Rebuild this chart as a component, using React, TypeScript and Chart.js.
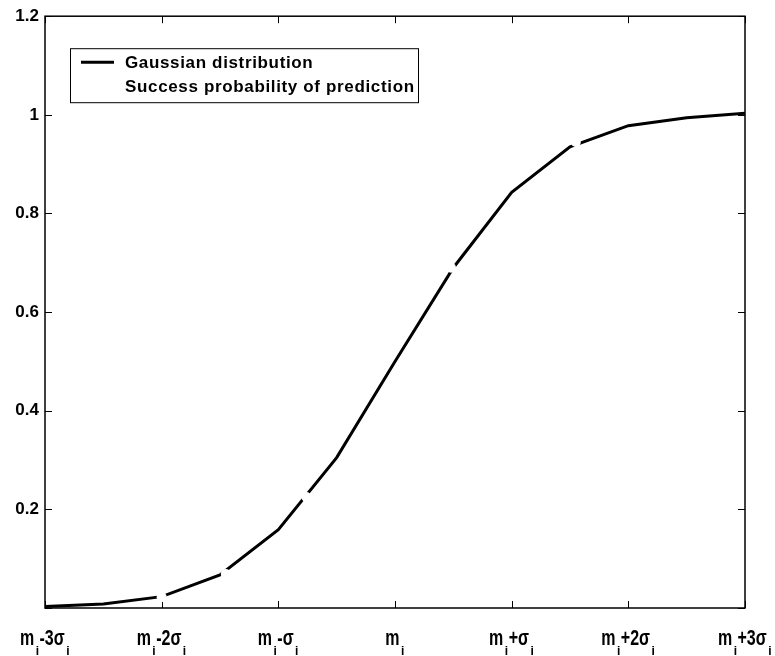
import React, { useEffect, useRef } from 'react';
import { Chart, registerables } from 'chart.js';

Chart.register(...registerables);

// ---- data ----
const sigmaPositions = [-3, -2.5, -2, -1.5, -1, -0.5, 0, 0.5, 1, 1.5, 2, 2.5, 3];
const gaussianValues = [0.003, 0.008, 0.023, 0.067, 0.159, 0.305, 0.5, 0.69, 0.843, 0.935, 0.978, 0.994, 1.003];
const successX = [-2, -1.45, -0.76, 0.48, 1.55];
const successY = [0.022, 0.069, 0.225, 0.69, 0.945];
const seriesNames = ['Gaussian distribution', 'Success probability of prediction'];
const xTickValues = [-3, -2, -1, 0, 1, 2, 3];
const xTickLabels = ['m_i-3σ_i', 'm_i-2σ_i', 'm_i-σ_i', 'm_i', 'm_i+σ_i', 'm_i+2σ_i', 'm_i+3σ_i'];
const yTickValues = [0, 0.2, 0.4, 0.6, 0.8, 1, 1.2];

const FONT = '"Liberation Sans", Arial, sans-serif';

const framePlugin = {
  id: 'matlabFrame',
  beforeDatasetsDraw(chart: any) {
    const { ctx, chartArea } = chart;
    const { left, top, right, bottom } = chartArea;
    const xs = chart.scales.x;
    const ys = chart.scales.y;
    ctx.save();
    ctx.strokeStyle = '#000';
    ctx.lineWidth = 1.5;
    ctx.strokeRect(left, top, right - left, bottom - top);
    ctx.lineWidth = 1;
    ctx.beginPath();
    const tl = 7;
    xTickValues.forEach((v) => {
      const px = Math.round(xs.getPixelForValue(v)) + 0.5;
      ctx.moveTo(px, bottom);
      ctx.lineTo(px, bottom - tl);
      ctx.moveTo(px, top);
      ctx.lineTo(px, top + tl);
    });
    yTickValues.forEach((v) => {
      const py = Math.round(ys.getPixelForValue(v)) + 0.5;
      ctx.moveTo(left, py);
      ctx.lineTo(left + tl, py);
      ctx.moveTo(right, py);
      ctx.lineTo(right - tl, py);
    });
    ctx.stroke();
    ctx.restore();
  },
  afterDatasetsDraw(chart: any) {
    const { ctx, chartArea } = chart;
    const { left, top, bottom } = chartArea;
    const xs = chart.scales.x;
    ctx.save();
    // x tick labels with subscripts (slightly stretched vertically like the scan)
    const mainFont = `bold 16px ${FONT}`;
    const subFont = `bold 12px ${FONT}`;
    const base = bottom + 37;
    xTickValues.forEach((v, i) => {
      const parts = xTickLabels[i].split('_');
      const segs: { t: string; sub: boolean }[] = [];
      parts.forEach((p, k) => {
        if (k === 0) {
          segs.push({ t: p, sub: false });
        } else {
          segs.push({ t: p.charAt(0), sub: true });
          if (p.length > 1) segs.push({ t: p.slice(1), sub: false });
        }
      });
      let total = 0;
      const widths = segs.map((s) => {
        ctx.font = s.sub ? subFont : mainFont;
        const w = ctx.measureText(s.t).width + 1;
        total += w;
        return w;
      });
      let x = xs.getPixelForValue(v) - total / 2;
      ctx.fillStyle = '#000';
      ctx.textBaseline = 'alphabetic';
      ctx.textAlign = 'left';
      segs.forEach((s, k) => {
        ctx.save();
        ctx.translate(x + (s.sub ? 0.5 : 0), s.sub ? base + 10 : base);
        ctx.scale(1, s.sub ? 1.05 : 1.4);
        ctx.font = s.sub ? subFont : mainFont;
        ctx.fillText(s.t, 0, 0);
        ctx.restore();
        x += widths[k];
      });
    });

    // legend box
    const bx = left + 25;
    const by = top + 32;
    const bw = 348;
    const bh = 54;
    ctx.fillStyle = '#fff';
    ctx.fillRect(bx, by, bw, bh);
    ctx.strokeStyle = '#000';
    ctx.lineWidth = 1;
    ctx.strokeRect(bx + 0.5, by + 0.5, bw, bh);
    const dsets = chart.data.datasets;
    ctx.font = `bold 17px ${FONT}`;
    try { (ctx as any).letterSpacing = '0.65px'; } catch (e) {}
    dsets.forEach((d: any, k: number) => {
      const ly = by + 14 + k * 24;
      ctx.strokeStyle = d.borderColor;
      ctx.lineWidth = 3;
      ctx.beginPath();
      ctx.moveTo(bx + 11, ly);
      ctx.lineTo(bx + 44, ly);
      ctx.stroke();
      ctx.fillStyle = '#000';
      ctx.textBaseline = 'alphabetic';
      ctx.fillText(d.label, bx + 55, ly + 6);
    });
    ctx.restore();
  },
};

export default function App() {
  const ref = useRef<HTMLCanvasElement | null>(null);
  useEffect(() => {
    if (!ref.current) return;
    const chart = new Chart(ref.current, {
      type: 'line',
      data: {
        datasets: [
          {
            label: seriesNames[0],
            data: sigmaPositions.map((x, i) => ({ x, y: gaussianValues[i] })),
            borderColor: '#000',
            backgroundColor: '#000',
            borderWidth: 3,
            pointRadius: 0,
            tension: 0,
            order: 2,
          },
          {
            label: seriesNames[1],
            data: successX.map((x, i) => ({ x, y: successY[i] })),
            borderColor: '#fff',
            backgroundColor: '#fff',
            borderWidth: 0,
            showLine: false,
            pointRadius: 5,
            pointBorderWidth: 0,
            order: 1,
          },
        ],
      },
      options: {
        animation: false,
        responsive: true,
        maintainAspectRatio: false,
        layout: { padding: { top: 15, right: 30, left: 0, bottom: 0 } },
        plugins: { legend: { display: false }, tooltip: { enabled: false } },
        scales: {
          x: {
            type: 'linear',
            min: -3,
            max: 3,
            grid: { display: false, drawTicks: false },
            border: { display: false },
            ticks: { display: false, stepSize: 1 },
            afterFit: (s: any) => { s.height = 48; },
          },
          y: {
            type: 'linear',
            min: 0,
            max: 1.2,
            grid: { display: false, drawTicks: false },
            border: { display: false },
            afterFit: (s: any) => { s.width = 45; },
            ticks: {
              stepSize: 0.2,
              padding: 6,
              color: '#000',
              font: { family: FONT, size: 17, weight: 'bold' },
              callback: (v: any) => {
                const n = Number(Number(v).toFixed(1));
                return n === 0 ? '' : String(n);
              },
            },
          },
        },
      },
      plugins: [framePlugin],
    });
    return () => chart.destroy();
  }, []);
  return (
    <div style={{ position: 'absolute', left: 0, top: 0, width: 775, height: 656, background: '#fff' }}>
      <canvas ref={ref} />
    </div>
  );
}
